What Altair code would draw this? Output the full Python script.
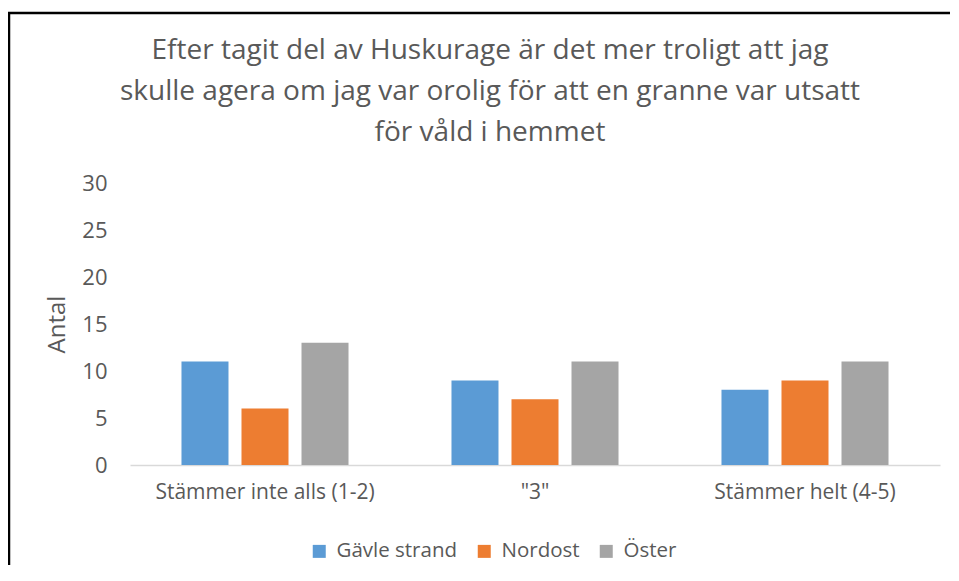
import altair as alt
import pandas as pd

categories = ["Stämmer inte alls (1-2)", "\"3\"", "Stämmer helt (4-5)"]
series = ["Gävle strand", "Nordost", "Öster"]
gavle = [11, 9, 8]
nordost = [6, 7, 9]
oster = [13, 11, 11]
colors = ["#5B9BD5", "#ED7D31", "#A5A5A5"]
y_ticks = [0, 5, 10, 15, 20, 25, 30]
title_lines = [
    "Efter tagit del av Huskurage är det mer troligt att jag",
    "skulle agera om jag var orolig för att en granne var utsatt",
    "för våld i hemmet",
]

rows = []
for name, vals in zip(series, [gavle, nordost, oster]):
    for c, v in zip(categories, vals):
        rows.append({"Kategori": c, "Område": name, "Antal": v})
df = pd.DataFrame(rows)

FONT = "Open Sans"
TXT = "#595959"

bars = alt.Chart(df).mark_bar().encode(
    x=alt.X(
        "Kategori:N",
        sort=categories,
        scale=alt.Scale(paddingInner=1 / 3, paddingOuter=1 / 6),
        axis=alt.Axis(
            title=None, labelAngle=0, ticks=False, domainColor="#D9D9D9",
            domainWidth=1.5, labelPadding=16, labelFontSize=21,
            labelColor=TXT, labelFont=FONT, labelLimit=500,
        ),
    ),
    xOffset=alt.XOffset(
        "Område:N", sort=series,
        scale=alt.Scale(paddingInner=0.2167, paddingOuter=0.108),
    ),
    y=alt.Y(
        "Antal:Q",
        scale=alt.Scale(domain=[0, 30]),
        axis=alt.Axis(
            values=y_ticks, grid=False, domain=False, ticks=False,
            labelPadding=23, title="Antal", titleFontSize=24,
            titleFontWeight="normal", titleColor=TXT, titleFont=FONT,
            titlePadding=12, labelFontSize=22, labelColor=TXT, labelFont=FONT,
        ),
    ),
    color=alt.Color(
        "Område:N",
        sort=series,
        scale=alt.Scale(domain=series, range=colors),
        legend=alt.Legend(
            title=None, orient="none", direction="horizontal",
            legendX=179, legendY=358, symbolType="square", symbolSize=169,
            symbolStrokeWidth=0, labelFontSize=20.5, labelColor=TXT,
            labelFont=FONT, columnPadding=16, labelOffset=7, labelLimit=300,
        ),
    ),
)

frame = alt.Data(values=[{}])
left_border = alt.Chart(frame).mark_rule(color="black", strokeWidth=2.5).encode(
    x=alt.value(-121), y=alt.value(-170), y2=alt.value(390)
)
top_border = alt.Chart(frame).mark_rule(color="black", strokeWidth=2.5).encode(
    x=alt.value(-122), x2=alt.value(830), y=alt.value(-170)
)

chart = alt.layer(bars, left_border, top_border).properties(
    width=810,
    height=282,
    autosize=alt.AutoSizeParams(type="none"),
    padding={"left": 122, "top": 175, "right": 10, "bottom": 100},
    title=alt.Title(
        title_lines, fontSize=28, font=FONT, fontWeight="normal", color=TXT,
        lineHeight=41, anchor="middle", dx=-45, offset=-163, baseline="bottom",
    ),
).configure_view(stroke=None)

chart.save("out.html", embed_options={"renderer": "svg", "actions": False})
